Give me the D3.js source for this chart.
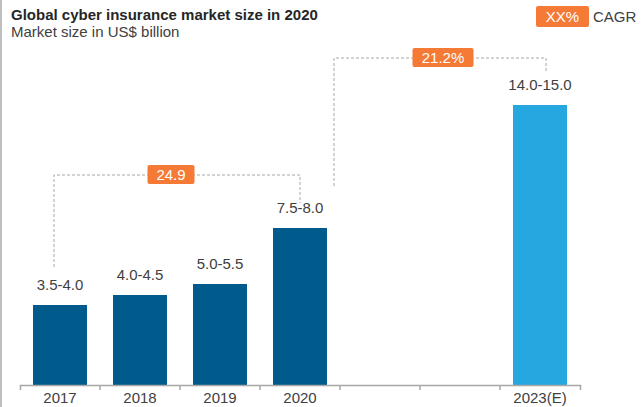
<!DOCTYPE html>
<html>
<head>
<meta charset="utf-8">
<script src="https://cdn.jsdelivr.net/npm/d3@7"></script>
<style>
  body { margin: 0; background: #fff; }
  svg text { font-family: "Liberation Sans", Arial, sans-serif; }
</style>
</head>
<body>
<div id="canvas"></div>
<script>
// categories (two empty slots before the estimate year)
const categories = ["2017", "2018", "2019", "2020", "2021", "2022", "2023(E)"];
const tickLabels = ["2017", "2018", "2019", "2020", "", "", "2023(E)"];
const barYears = ["2017", "2018", "2019", "2020", "2023(E)"];
const barValues = [4.0, 4.5, 5.05, 7.85, 14.0];
const rangeLabels = ["3.5-4.0", "4.0-4.5", "5.0-5.5", "7.5-8.0", "14.0-15.0"];
const cagrLabels = ["24.9", "21.2%"];

const width = 641;
const height = 407;
const baseY = 385;

const svg = d3.select("#canvas").append("svg")
    .attr("width", width)
    .attr("height", height);

// left border
svg.append("rect")
    .attr("x", 0).attr("y", 0)
    .attr("width", 2).attr("height", height)
    .style("fill", "#bdbdbd");

// title
svg.append("text")
    .attr("x", 11).attr("y", 20)
    .style("font-size", "15px")
    .style("font-weight", "bold")
    .style("fill", "#262626")
    .text("Global cyber insurance market size in 2020");

svg.append("text")
    .attr("x", 11).attr("y", 37)
    .style("font-size", "15px")
    .style("fill", "#404040")
    .text("Market size in US$ billion");

// legend
svg.append("rect")
    .attr("x", 536).attr("y", 6)
    .attr("width", 53).attr("height", 21)
    .attr("rx", 2)
    .style("fill", "#f47a36");
svg.append("text")
    .attr("x", 562.5).attr("y", 22)
    .attr("text-anchor", "middle")
    .style("font-size", "15px")
    .style("fill", "#fff")
    .text("XX%");
svg.append("text")
    .attr("x", 593).attr("y", 22)
    .style("font-size", "15px")
    .style("fill", "#404040")
    .text("CAGR");

// scales
const x = d3.scaleBand()
    .domain(categories)
    .range([20, 580])
    .paddingInner(0.325)
    .paddingOuter(0.1625);

const y = d3.scaleLinear()
    .domain([0, 15])
    .range([baseY, baseY - 300]);

const bw = x.bandwidth();

// bars
svg.selectAll("rect.bar")
    .data(barYears)
    .enter().append("rect")
    .attr("class", "bar")
    .attr("x", d => x(d))
    .attr("y", (d, i) => y(barValues[i]))
    .attr("width", bw)
    .attr("height", (d, i) => baseY - y(barValues[i]))
    .style("fill", d => d === "2023(E)" ? "#27a7df" : "#005a8c");

svg.selectAll("text.val")
    .data(barYears)
    .enter().append("text")
    .attr("class", "val")
    .attr("x", d => x(d) + bw / 2)
    .attr("y", (d, i) => y(barValues[i]) - 15)
    .attr("text-anchor", "middle")
    .style("font-size", "15px")
    .style("fill", "#404040")
    .text((d, i) => rangeLabels[i]);

// x axis
const axis = svg.append("g")
    .attr("transform", `translate(0,${baseY})`)
    .call(d3.axisBottom(x)
        .tickSize(0)
        .tickSizeOuter(5)
        .tickPadding(7)
        .tickFormat((d, i) => tickLabels[i]));
axis.select(".domain").attr("stroke", "#a6a6a6").attr("stroke-width", 1.5);
axis.selectAll("text")
    .style("font-size", "15px")
    .style("font-family", "'Liberation Sans', Arial, sans-serif")
    .style("fill", "#404040");

axis.selectAll("line.sep")
    .data(d3.range(1, categories.length))
    .enter().append("line")
    .attr("class", "sep")
    .attr("x1", i => x.range()[0] + i * x.step())
    .attr("x2", i => x.range()[0] + i * x.step())
    .attr("y1", 0).attr("y2", 5)
    .attr("stroke", "#a6a6a6")
    .attr("stroke-width", 1.5);

// CAGR brackets
function bracket(x1, yl, yt, x2, yr, label, shift, bwidth) {
    svg.append("path")
        .attr("d", `M${x1},${yl}V${yt}H${x2}V${yr}`)
        .attr("fill", "none")
        .attr("stroke", "#a8a8a8")
        .attr("stroke-width", 1)
        .attr("stroke-dasharray", "3,2");
    const cx = (x1 + x2) / 2 + shift;
    svg.append("rect")
        .attr("x", cx - bwidth / 2).attr("y", yt - 10)
        .attr("width", bwidth).attr("height", 19)
        .attr("rx", 2)
        .style("fill", "#f47a36");
    svg.append("text")
        .attr("x", cx).attr("y", yt + 5)
        .attr("text-anchor", "middle")
        .style("font-size", "15px")
        .style("fill", "#fff")
        .text(label);
}

bracket(x("2017") + bw / 2 - 6, y(barValues[0]) - 38, y(barValues[3]) - 53,
        x("2020") + bw / 2, y(barValues[3]) - 25, cagrLabels[0], -6, 47);
bracket(x("2020") + bw + 7, y(barValues[3]) - 42, y(barValues[4]) - 47,
        x("2023(E)") + bw / 2 + 6, y(barValues[4]) - 32, cagrLabels[1], 3, 61);
</script>
</body>
</html>
